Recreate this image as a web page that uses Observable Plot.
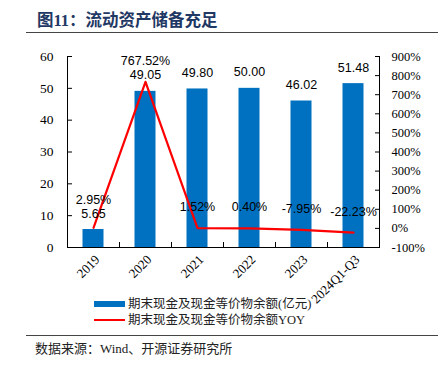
<!DOCTYPE html>
<html><head><meta charset="utf-8">
<script src="https://cdn.jsdelivr.net/npm/d3@7"></script>
<script src="https://cdn.jsdelivr.net/npm/@observablehq/plot@0.6"></script>
<style>
body{margin:0;width:438px;height:365px;position:relative;background:#fff;overflow:hidden}
#chart{position:absolute;left:0;top:0}
.title{position:absolute;left:37px;top:7px;font:bold 16.5px "Liberation Serif","Noto Sans CJK SC";color:#1F3864;white-space:nowrap}
.hr{position:absolute;left:26px;right:0;height:0;border-top:1.3px solid #444}
.leg{position:absolute;left:128px;font:12.5px "Liberation Serif","Noto Sans CJK SC";color:#222;white-space:nowrap;line-height:16px}
.sw{position:absolute;left:94px}
.src{position:absolute;left:35px;top:340px;font:13px "Liberation Serif","Noto Sans CJK SC";color:#222;white-space:nowrap;line-height:18px}
</style></head>
<body>
<div class="title">图11：流动资产储备充足</div>
<div class="hr" style="top:32px"></div>
<div id="chart"></div>
<div class="sw" style="top:301px;width:31px;height:6px;background:#0070C0"></div>
<div class="leg" style="top:296px"><span id="l1"></span></div>
<div class="sw" style="top:319px;width:31px;height:2px;background:#FF0000"></div>
<div class="leg" style="top:312px"><span id="l2"></span></div>
<div class="hr" style="top:335px"></div>
<div class="src">数据来源：Wind、开源证券研究所</div>
<script>
const categories = ["2019","2020","2021","2022","2023","2024Q1-Q3"];
const balance = [5.65, 49.05, 49.80, 50.00, 46.02, 51.48];
const yoy = [2.95, 767.52, 1.52, 0.40, -7.95, -22.23];
const leftTicks = [0,10,20,30,40,50,60];
const rightTicks = [-100,0,100,200,300,400,500,600,700,800,900];
const seriesNames = ["期末现金及现金等价物余额(亿元)","期末现金及现金等价物余额YOY"];

document.getElementById("l1").textContent = seriesNames[0];
document.getElementById("l2").textContent = seriesNames[1];

const L = [leftTicks[0], leftTicks[leftTicks.length-1]];
const R = [rightTicks[0], rightTicks[rightTicks.length-1]];
const toL = p => (p - R[0]) / (R[1] - R[0]) * (L[1] - L[0]) + L[0];
const rows = categories.map((c, i) => ({c, i, v: balance[i], p: yoy[i], pl: toL(yoy[i])}));
const n = categories.length;

const sans = "Liberation Sans";
const chart = Plot.plot({
  width: 438, height: 365,
  marginTop: 56, marginBottom: 118, marginLeft: 67, marginRight: 59,
  x: {domain: [0, n], label: null},
  y: {domain: L, label: null},
  style: {fontFamily: "Liberation Serif", fontSize: "13px", color: "#000", background: "transparent"},
  marks: [
    Plot.rectY(rows, {x1: "i", x2: d => d.i + 1, y: "v", fill: "#0070C0", insetLeft: 15.5, insetRight: 15.5}),
    Plot.ruleY([L[0]], {stroke: "#000"}),
    Plot.ruleX([0, n], {stroke: "#000"}),
    Plot.axisY(leftTicks, {anchor: "left", tickSize: -5, text: null, label: null, stroke: "#000"}),
    Plot.axisY(leftTicks, {anchor: "left", tickSize: 0, tickPadding: 14, label: null, fontSize: 13.5}),
    Plot.axisY(rightTicks.map(toL), {anchor: "right", tickSize: -5, text: null, label: null, stroke: "#000"}),
    Plot.axisY(rightTicks.map(toL), {anchor: "right", tickSize: 0, tickPadding: 12, label: null, fontSize: 12.5,
      tickFormat: v => Math.round(R[0] + (v - L[0]) / (L[1] - L[0]) * (R[1] - R[0])) + "%"}),
    Plot.axisX(d3.range(1, n), {anchor: "bottom", tickSize: -5, text: null, label: null, stroke: "#000"}),
    Plot.axisX(d3.range(n).map(i => i + 0.5), {anchor: "bottom", tickSize: 0, tickPadding: 10, tickRotate: -45,
      label: null, fontSize: 13, dx: 4, tickFormat: v => categories[Math.floor(v)]}),
    Plot.line(rows, {x: d => d.i + 0.5, y: "pl", stroke: "#FF0000", strokeWidth: 2.2}),
    Plot.text(rows, {x: d => d.i + 0.5, y: "v", text: d => d.v.toFixed(2), dy: -16, fontFamily: sans, fontSize: 12.5, fill: "#000"}),
    Plot.text(rows.filter(d => d.i > 0), {x: d => d.i + 0.5, y: "pl", text: d => d.p.toFixed(2) + "%", dy: -21, fontFamily: sans, fontSize: 12.5, fill: "#000"}),
    Plot.text(rows.filter(d => d.i === 0), {x: d => d.i + 0.5, y: "v", text: d => d.p.toFixed(2) + "%", dy: -30, fontFamily: sans, fontSize: 12.5, fill: "#000"})
  ]
});
document.getElementById("chart").appendChild(chart);
</script>
</body></html>
